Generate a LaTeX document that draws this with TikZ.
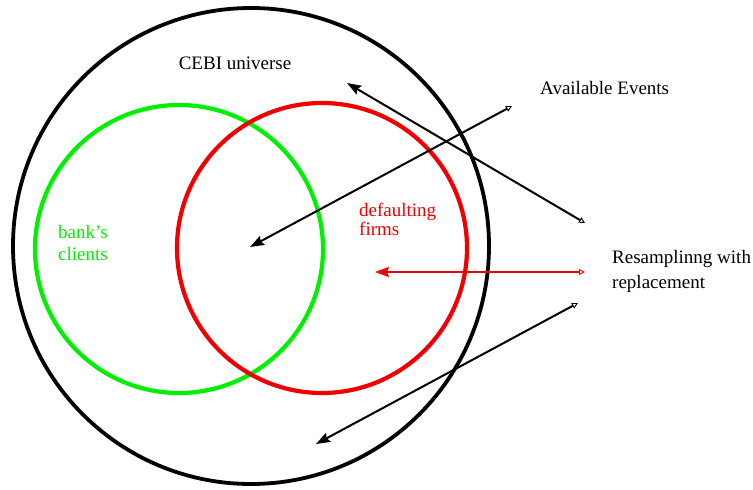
\documentclass[tikz,border=0pt]{standalone}
\usepackage{fontspec}
\setmainfont{Liberation Serif}
\usetikzlibrary{arrows.meta}
\definecolor{fgreen}{RGB}{0,240,0}
\definecolor{fred}{RGB}{240,0,0}
\begin{document}
\begin{tikzpicture}[x=1pt,y=-1pt,
  ring/.style={circle,draw,inner sep=0pt,minimum size=#1},
  lbl/.style={font=\fontsize{19}{22}\selectfont,align=left,anchor=west,inner sep=0pt},
  arr/.style={line width=2pt,{Triangle[open,length=6pt,width=6pt,line width=0.9pt]}-{Stealth[length=14pt,width=10pt,inset=2pt]}}]
\useasboundingbox (0,0) rectangle (753,490);
\node[ring=476pt,line width=3.8pt] (univ) at (251,246) {};
\node[ring=288pt,line width=4.2pt,draw=fgreen] (bank) at (179,249) {};
\node[ring=290pt,line width=4.2pt,draw=fred] (def) at (322,248) {};
\node[lbl,anchor=center] (cebi) at (235,63) {CEBI universe};
\node[lbl] (avail) at (540,88) {Available Events};
\node[lbl,font=\fontsize{19}{25}\selectfont] (resamp) at (612,271) {Resamplinng with\\replacement};
\node[lbl,text=fgreen] (bk) at (58,243) {bank's\\clients};
\node[lbl,text=fred,font=\fontsize{19}{19}\selectfont] (df) at (359,219) {defaulting\\firms};
\coordinate (a1s) at (512,106); \coordinate (a1e) at (250,247);
\coordinate (a2s) at (585,223); \coordinate (a2e) at (347,83);
\coordinate (a3s) at (585,272); \coordinate (a3e) at (375,272);
\coordinate (a4s) at (578,303); \coordinate (a4e) at (316,444);
\draw[arr] (a1s) -- (a1e);
\draw[arr] (a2s) -- (a2e);
\draw[arr,draw=fred,fill=fred] (a3s) -- (a3e);
\draw[arr] (a4s) -- (a4e);
\end{tikzpicture}
\end{document}
